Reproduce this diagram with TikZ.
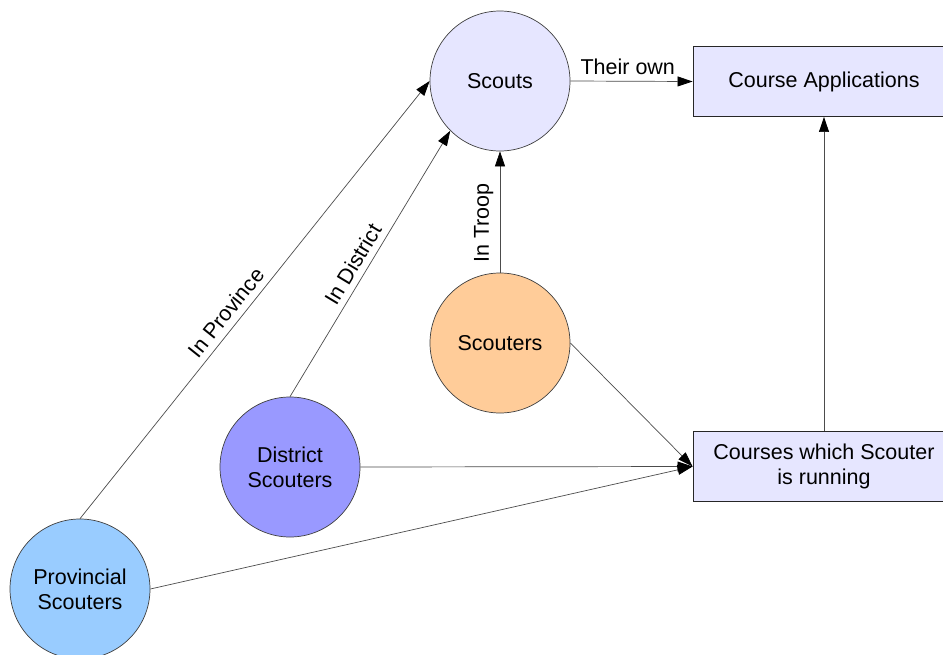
\documentclass[tikz,border=0pt]{standalone}
\usepackage{fontspec}
\setmainfont{Liberation Sans}
\usetikzlibrary{arrows.meta}

\definecolor{lavender}{RGB}{230,230,255}
\definecolor{peach}{RGB}{255,204,153}
\definecolor{districtblue}{RGB}{153,153,255}
\definecolor{provblue}{RGB}{153,204,255}

\begin{document}
\begin{tikzpicture}[x=1pt, y=-1pt,
		every node/.style={font=\fontsize{21.5}{25}\selectfont},
		ball/.style={circle, draw=black!75, line width=0.7pt, minimum size=140pt, inner sep=0pt, align=center},
		listbox/.style={rectangle, draw=black!85, line width=0.9pt, fill=lavender, minimum width=262pt, minimum height=70pt, align=center},
		link/.style={draw=black!70, line width=0.7pt, -{Triangle[length=15pt,width=10pt,color=black]}},
		tag/.style={sloped, above=3pt}]
		% Frame
		\useasboundingbox (0,0) rectangle (943,654);
		\fill[white] (0,0) rectangle (943,654);
		\clip (0,0) rectangle (943,654);
		
		% Coordinates
		\coordinate (C_scouts) at (500, 81);
		\coordinate (C_scouters) at (500, 343);
		\coordinate (C_district) at (290, 467);
		\coordinate (C_provincial) at (80, 589);
		\coordinate (C_applications) at (824, 81.5);
		\coordinate (C_running) at (824, 466.5);
		
		% Nodes
		\node[ball, fill=lavender] (scouts) at (C_scouts) {Scouts};
		\node[ball, fill=peach] (scouters) at (C_scouters) {Scouters};
		\node[ball, fill=districtblue] (district) at (C_district) {District\\Scouters};
		\node[ball, fill=provblue] (provincial) at (C_provincial) {Provincial\\Scouters};
		\node[listbox] (applications) at (C_applications) {Course Applications};
		\node[listbox] (running) at (C_running) {Courses which Scouter\\is running};
		
		% Who sees the applications
		\draw[link] (scouts.east) -- node[pos=0.47, above=3pt] {Their own} (applications.west);
		\draw[link] (scouters.north) -- node[pos=0.41, tag] {In Troop} (scouts.south);
		\draw[link] (district.north) -- node[pos=0.47, tag] {In District} (scouts.south west);
		\draw[link] (provincial.north) -- node[pos=0.45, tag] {In Province} (scouts.west);
		
		% Courses being run
		\draw[link] (scouters.east) -- (running.west);
		\draw[link] (district.east) -- (running.west);
		\draw[link] (provincial.east) -- (running.west);
		\draw[link] (running.north) -- (applications.south);
	\end{tikzpicture}
\end{document}
